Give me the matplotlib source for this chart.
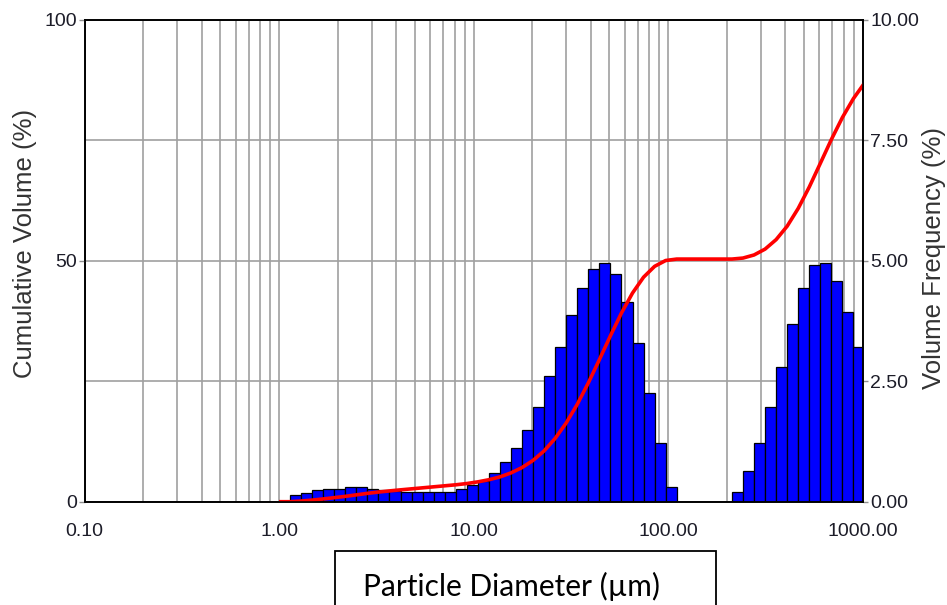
import numpy as np
import matplotlib
matplotlib.use("Agg")
import matplotlib.pyplot as plt
from matplotlib.patches import Rectangle
from matplotlib.ticker import FixedLocator, NullFormatter

plt.rcParams['font.family'] = ['Liberation Sans', 'DejaVu Sans']

# size classes (um): 53 geometric bins between 1 and 1024 um
size_lo, size_hi, n_bins = 1.0, 1024.0, 53
size_edges = np.geomspace(size_lo, size_hi, n_bins + 1)

# volume frequency (%) for each size class
vol_freq = np.array([
    0.00,
    0.14, 0.19, 0.24, 0.27, 0.27, 0.31, 0.31, 0.27, 0.24, 0.22,
    0.21, 0.21, 0.21, 0.21, 0.21, 0.26, 0.35, 0.44, 0.59, 0.83,
    1.11, 1.49, 1.97, 2.60, 3.21, 3.87, 4.43, 4.83, 4.95, 4.73,
    4.15, 3.29, 2.25, 1.21, 0.30,
    0.00, 0.00, 0.00, 0.00, 0.00,
    0.21, 0.64, 1.22, 1.97, 2.79, 3.69, 4.44, 4.91, 4.95, 4.58,
    3.93, 3.21,
])

# cumulative volume (%) at the upper edge of each class
cum_vol = np.concatenate([[0.0], np.cumsum(vol_freq)])

x_ticks = [0.1, 1, 10, 100, 1000]
x_labels = ["0.10", "1.00", "10.00", "100.00", "1000.00"]
cum_ticks = [0, 50, 100]
cum_labels = ["0", "50", "100"]
freq_ticks = [0, 2.5, 5, 7.5, 10]
freq_labels = ["0.00", "2.50", "5.00", "7.50", "10.00"]

W, H = 947, 605
fig = plt.figure(figsize=(W / 100, H / 100), dpi=100)
ax_f = fig.add_axes([84.5 / W, 1 - 501.7 / H, 778 / W, 481.7 / H])
ax_f.set_xscale('log')
ax_c = ax_f.twinx()

# frequency axis on the right, cumulative on the left
ax_f.yaxis.tick_right()
ax_c.yaxis.tick_left()

ax_f.set_xlim(0.1, 1000)
ax_f.set_ylim(0, 10)
ax_c.set_ylim(0, 100)

mask = vol_freq > 0
ax_f.bar(size_edges[:-1][mask], vol_freq[mask],
         width=np.diff(size_edges)[mask], align='edge',
         color='#0000ff', edgecolor='black', linewidth=0.9)

ax_c.plot(size_edges, cum_vol, color='#ff0000', lw=2.6,
          solid_joinstyle='round', solid_capstyle='butt')

# grid
ax_f.set_axisbelow(True)
ax_f.xaxis.set_major_locator(FixedLocator(x_ticks))
minor = [m * 10.0 ** e for e in range(-1, 3) for m in range(2, 10)]
ax_f.xaxis.set_minor_locator(FixedLocator(minor))
ax_f.xaxis.set_minor_formatter(NullFormatter())
ax_f.set_xticklabels(x_labels)
ax_f.grid(which='both', axis='x', color='#a0a0a0', lw=1.2)
ax_f.grid(which='major', axis='y', color='#a0a0a0', lw=1.2)

ax_f.set_yticks(freq_ticks)
ax_f.set_yticklabels(freq_labels)
ax_c.set_yticks(cum_ticks)
ax_c.set_yticklabels(cum_labels)

tick_col = '#1c1c28'
ax_f.tick_params(axis='x', which='both', length=0, pad=15,
                 labelsize=14, labelcolor=tick_col)
ax_f.tick_params(axis='y', length=3.5, width=1, color='#909090', pad=2,
                 labelsize=14, labelcolor=tick_col)
ax_c.tick_params(axis='y', length=4, width=1, color='#909090', pad=1.5,
                 labelsize=14, labelcolor=tick_col)

for a in (ax_f, ax_c):
    for sp in a.spines.values():
        sp.set_color('black')
        sp.set_linewidth(1.2)

fig.text(25 / W, 1 - 243 / H, "Cumulative Volume (%)", rotation=90,
         ha='center', va='center', fontsize=18.5, color='#333333')
fig.text(934 / W, 1 - 258 / H, "Volume Frequency (%)", rotation=90,
         ha='center', va='center', fontsize=18.5, color='#333333')

# x label in a framed box at the bottom
fig.patches.append(Rectangle((335 / W, -0.05), (716 - 335) / W,
                             (605 - 551) / H + 0.05,
                             transform=fig.transFigure, fill=False,
                             edgecolor='black', lw=1.3))
fig.text(511 / W, 1 - 586 / H, "Particle Diameter (\u00b5m)",
         ha='center', va='center', fontsize=21.5, family='Lato',
         color='black')

fig.savefig("out.png", dpi=100)
